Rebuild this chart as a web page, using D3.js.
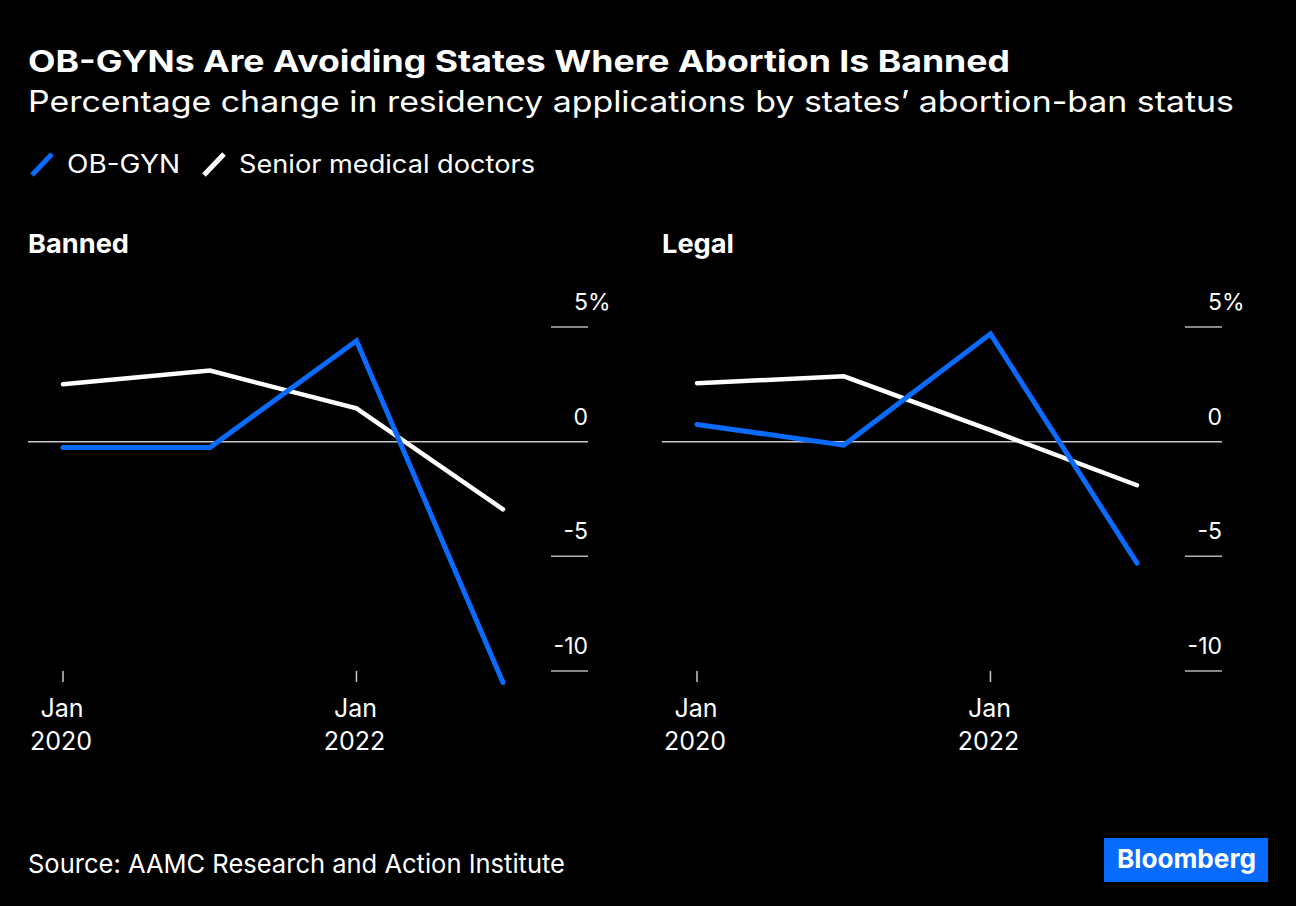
<!DOCTYPE html>
<html>
<head>
<meta charset="utf-8">
<script src="https://cdn.jsdelivr.net/npm/d3@7"></script>
<style>
  html, body { margin: 0; padding: 0; background: #000; }
  svg { display: block; }
  text { font-family: Inter, "Liberation Sans", Arial, sans-serif; fill: #fff; }
</style>
</head>
<body>
<svg id="chart" width="1296" height="906"></svg>
<script>
// ---- Data ----
const dates = ["2020-01-01", "2021-01-01", "2022-01-01", "2023-01-01"];
const bannedObgyn = [-0.25, -0.25, 4.4, -10.5];
const bannedSenior = [2.5, 3.1, 1.45, -2.95];
const legalObgyn = [0.75, -0.15, 4.7, -5.3];
const legalSenior = [2.55, 2.85, 0.5, -1.9];
const yTicks = [5, 0, -5, -10];
const xTickDates = ["2020-01-01", "2022-01-01"];
const panelNames = ["Banned", "Legal"];
const seriesNames = ["OB-GYN", "Senior medical doctors"];

const BLUE = "#0a6bff";
const WHITE = "#ffffff";
const parse = d3.timeParse("%Y-%m-%d");

const svg = d3.select("#chart");
svg.append("rect").attr("width", 1296).attr("height", 906).attr("fill", "#000");

function fit(sel, w) {
  sel.attr("textLength", w).attr("lengthAdjust", "spacingAndGlyphs");
  return sel;
}

// Title & subtitle
fit(svg.append("text").attr("x", 28).attr("y", 72)
  .attr("font-size", 30).attr("font-weight", 700)
  .text("OB-GYNs Are Avoiding States Where Abortion Is Banned"), 982);
fit(svg.append("text").attr("x", 28).attr("y", 112)
  .attr("font-size", 29.5).attr("font-weight", 400)
  .text("Percentage change in residency applications by states\u2019 abortion-ban status"), 1206);

// Legend
const legend = svg.append("g");
const legendItems = [
  { name: seriesNames[0], color: BLUE, x: 30, tx: 67, w: 113 },
  { name: seriesNames[1], color: WHITE, x: 202, tx: 239, w: 296 }
];
legendItems.forEach(it => {
  legend.append("line").attr("x1", it.x + 2).attr("y1", 175).attr("x2", it.x + 22).attr("y2", 154)
    .attr("stroke", it.color).attr("stroke-width", 5).attr("stroke-linecap", "butt");
  fit(legend.append("text").attr("x", it.tx).attr("y", 173).attr("font-size", 25).text(it.name), it.w);
});

// Panels
const panels = [
  { name: panelNames[0], left: 28, obgyn: bannedObgyn, senior: bannedSenior, tw: 101 },
  { name: panelNames[1], left: 662, obgyn: legalObgyn, senior: legalSenior, tw: 72 }
];

const y = d3.scaleLinear().domain([-10, 5]).range([671, 327]);

panels.forEach(p => {
  const g = svg.append("g");
  const right = p.left + 560;
  const x = d3.scaleTime()
    .domain([parse(dates[0]), parse(dates[3])])
    .range([p.left + 35, p.left + 475]);

  fit(g.append("text").attr("x", p.left).attr("y", 253)
    .attr("font-size", 26).attr("font-weight", 700).text(p.name), p.tw);

  // y gridlines / ticks
  yTicks.forEach(t => {
    const yy = y(t);
    if (t === 0) {
      g.append("line").attr("x1", p.left).attr("x2", right).attr("y1", yy).attr("y2", yy)
        .attr("stroke", "#c8c8c8").attr("stroke-width", 1.5);
    } else {
      g.append("line").attr("x1", right - 37).attr("x2", right).attr("y1", yy).attr("y2", yy)
        .attr("stroke", "#b4b4b4").attr("stroke-width", 1.5);
    }
    g.append("text").attr("x", right).attr("y", yy - 17)
      .attr("font-size", 23).attr("text-anchor", "end").text(t);
    if (t === yTicks[0]) {
      g.append("text").attr("x", right).attr("y", yy - 17)
        .attr("font-size", 23).text("%");
    }
  });

  // x ticks
  xTickDates.forEach(d => {
    const xx = x(parse(d));
    g.append("line").attr("x1", xx).attr("x2", xx).attr("y1", 671).attr("y2", 682)
      .attr("stroke", "#c8c8c8").attr("stroke-width", 1.5);
    const dt = parse(d);
    g.append("text").attr("x", xx - 1).attr("y", 717).attr("font-size", 25)
      .attr("text-anchor", "middle").text(d3.timeFormat("%b")(dt));
    g.append("text").attr("x", xx - 2).attr("y", 750).attr("font-size", 25)
      .attr("text-anchor", "middle").text(d3.timeFormat("%Y")(dt));
  });

  const line = d3.line().x((d, i) => x(parse(dates[i]))).y(d => y(d));
  g.append("path").datum(p.senior).attr("d", line)
    .attr("fill", "none").attr("stroke", WHITE).attr("stroke-width", 4.5)
    .attr("stroke-linecap", "round").attr("stroke-linejoin", "miter");
  g.append("path").datum(p.obgyn).attr("d", line)
    .attr("fill", "none").attr("stroke", BLUE).attr("stroke-width", 5)
    .attr("stroke-linecap", "round").attr("stroke-linejoin", "miter");
});

// Source
fit(svg.append("text").attr("x", 28).attr("y", 873).attr("font-size", 26)
  .text("Source: AAMC Research and Action Institute"), 537);

// Bloomberg logo
svg.append("rect").attr("x", 1104).attr("y", 838).attr("width", 164).attr("height", 44).attr("fill", BLUE);
fit(svg.append("text").attr("x", 1117).attr("y", 868).attr("font-size", 26).attr("font-weight", 700)
  .text("Bloomberg"), 139);
</script>
</body>
</html>
